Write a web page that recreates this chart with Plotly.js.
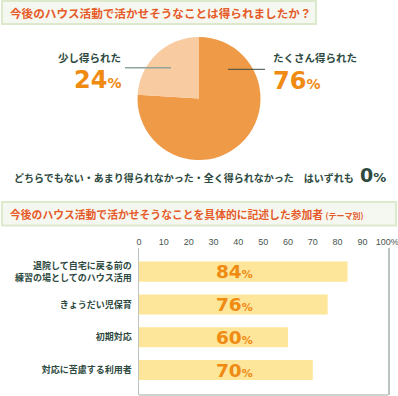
<!DOCTYPE html>
<html>
<head>
<meta charset="utf-8">
<script src="https://cdn.plot.ly/plotly-3.0.1.min.js"></script>
<style>html,body{margin:0;padding:0;background:#fff;}#chart{width:398px;height:396px;}</style>
</head>
<body>
<div id="chart"></div>
<script>
// ---- data ----
const pieLabels = ["たくさん得られた", "少し得られた"];
const pieValues = [76, 24];
const otherNote = "どちらでもない・あまり得られなかった・全く得られなかった　はいずれも";
const otherValue = 0;

const barCategories = ["退院して自宅に戻る前の<br>練習の場としてのハウス活用", "きょうだい児保育", "初期対応", "対応に苦慮する利用者"];
const barValues = [84, 76, 60, 70];
const xTickVals = [0, 10, 20, 30, 40, 50, 60, 70, 80, 90, 100];
const xTickText = ["0", "10", "20", "30", "40", "50", "60", "70", "80", "90", "100%"];

const title1 = "今後のハウス活動で活かせそうなことは得られましたか？";
const title2 = "今後のハウス活動で活かせそうなことを具体的に記述した参加者";
const title2Small = "(テーマ別)";

// ---- helpers ----
const W = 398, H = 396;
const px = x => x / W;
const py = y => 1 - y / H;
const JP = '"Noto Sans CJK JP", "Noto Sans", sans-serif';
const NUM = '"DejaVu Sans", sans-serif';
const ORANGE = '#EF8A12';
const DARK = '#2E4A40';

const pieTrace = {
  type: 'pie',
  labels: pieLabels,
  values: pieValues,
  sort: false,
  direction: 'clockwise',
  rotation: 0,
  textinfo: 'none',
  hoverinfo: 'none',
  marker: {colors: ['#EF9A47', '#F8CBA0'], line: {width: 0}},
  domain: {x: [px(137.5), px(260.5)], y: [py(160), py(37)]},
  showlegend: false
};

const barTrace = {
  type: 'bar',
  orientation: 'h',
  y: barCategories,
  x: barValues,
  width: 0.61,
  marker: {color: '#FDE69A', line: {width: 0}},
  hoverinfo: 'none',
  xaxis: 'x',
  yaxis: 'y',
  showlegend: false
};

const pct = (v, small) => `${v}<span style="font-size:${small}px">%</span>`;

const annotations = [
  {xref: 'paper', yref: 'paper', x: px(8), y: py(12.5), xanchor: 'left', yanchor: 'middle', showarrow: false,
   text: `<b>${title1}</b>`, font: {family: JP, size: 11.6, color: '#E65A28'}},
  {xref: 'paper', yref: 'paper', x: px(8), y: py(213.5), xanchor: 'left', yanchor: 'middle', showarrow: false,
   text: `<b>${title2} <span style="font-size:8px">${title2Small}</span></b>`, font: {family: JP, size: 10.8, color: '#E65A28'}},
  // pie labels
  {xref: 'paper', yref: 'paper', x: px(123), y: py(58), xanchor: 'right', yanchor: 'middle', showarrow: false,
   text: `<b>${pieLabels[1]}</b>`, font: {family: JP, size: 10.5, color: DARK}},
  {xref: 'paper', yref: 'paper', x: px(123), y: py(80), xanchor: 'right', yanchor: 'middle', showarrow: false,
   text: `<b>${pct(pieValues[1], 14)}</b>`, font: {family: NUM, size: 24, color: ORANGE}},
  {xref: 'paper', yref: 'paper', x: px(271), y: py(58), xanchor: 'left', yanchor: 'middle', showarrow: false,
   text: `<b>${pieLabels[0]}</b>`, font: {family: JP, size: 10.5, color: DARK}},
  {xref: 'paper', yref: 'paper', x: px(271), y: py(80.5), xanchor: 'left', yanchor: 'middle', showarrow: false,
   text: `<b>${pct(pieValues[0], 14)}</b>`, font: {family: NUM, size: 24, color: ORANGE}},
  // note
  {xref: 'paper', yref: 'paper', x: px(12), y: py(177), xanchor: 'left', yanchor: 'middle', showarrow: false,
   text: `<b>${otherNote}</b>`, font: {family: JP, size: 10, color: DARK}},
  {xref: 'paper', yref: 'paper', x: px(358), y: py(175), xanchor: 'left', yanchor: 'middle', showarrow: false,
   text: `<b>${pct(otherValue, 13)}</b>`, font: {family: NUM, size: 19, color: DARK}}
];

barValues.forEach((v, i) => {
  annotations.push({xref: 'x', yref: 'y', x: 38.5, y: barCategories[i], xanchor: 'center', yanchor: 'middle',
    showarrow: false, text: `<b>${pct(v, 11)}</b>`, font: {family: NUM, size: 18.5, color: ORANGE}});
});

const layout = {
  width: W, height: H,
  margin: {l: 0, r: 0, t: 0, b: 0},
  paper_bgcolor: '#ffffff',
  plot_bgcolor: '#ffffff',
  showlegend: false,
  xaxis: {
    domain: [px(139), px(388)],
    range: [0, 100.3],
    side: 'top',
    tickvals: xTickVals,
    ticktext: xTickText,
    ticklabeloverflow: 'allow',
    showgrid: false, zeroline: false, showline: false,
    ticks: '',
    tickfont: {family: '"Liberation Sans", sans-serif', size: 9, color: '#4a5550'},
    fixedrange: true
  },
  yaxis: {
    domain: [py(395), py(248)],
    type: 'category',
    range: [3.76, -0.72],
    showgrid: false, zeroline: false,
    showline: true, mirror: true, linecolor: '#BCC4C0', linewidth: 1.5,
    ticks: '',
    ticklabelstandoff: 4,
    tickfont: {family: JP, size: 9, color: DARK, weight: 'bold'},
    fixedrange: true
  },
  shapes: [
    {type: 'rect', xref: 'paper', yref: 'paper', x0: px(2), x1: px(316), y0: py(24), y1: py(1),
     fillcolor: '#F5F8F0', line: {color: '#DDE9CC', width: 2}, layer: 'below'},
    {type: 'rect', xref: 'paper', yref: 'paper', x0: px(2), x1: px(396), y0: py(225.5), y1: py(202),
     fillcolor: '#F5F8F0', line: {color: '#DDE9CC', width: 2}, layer: 'below'},
    {type: 'line', xref: 'paper', yref: 'paper', x0: px(125), x1: px(171), y0: py(67.7), y1: py(67.7),
     line: {color: '#8FA59C', width: 1.5}},
    {type: 'line', xref: 'paper', yref: 'paper', x0: px(228), x1: px(265), y0: py(69.3), y1: py(69.3),
     line: {color: '#3A4A44', width: 1}},
    {type: 'line', xref: 'paper', yref: 'paper', x0: px(139), x1: px(388), y0: py(395), y1: py(395),
     line: {color: '#BCC4C0', width: 1.5}}
  ],
  annotations: annotations
};

Plotly.newPlot('chart', [pieTrace, barTrace], layout, {displayModeBar: false, staticPlot: true});
</script>
</body>
</html>
